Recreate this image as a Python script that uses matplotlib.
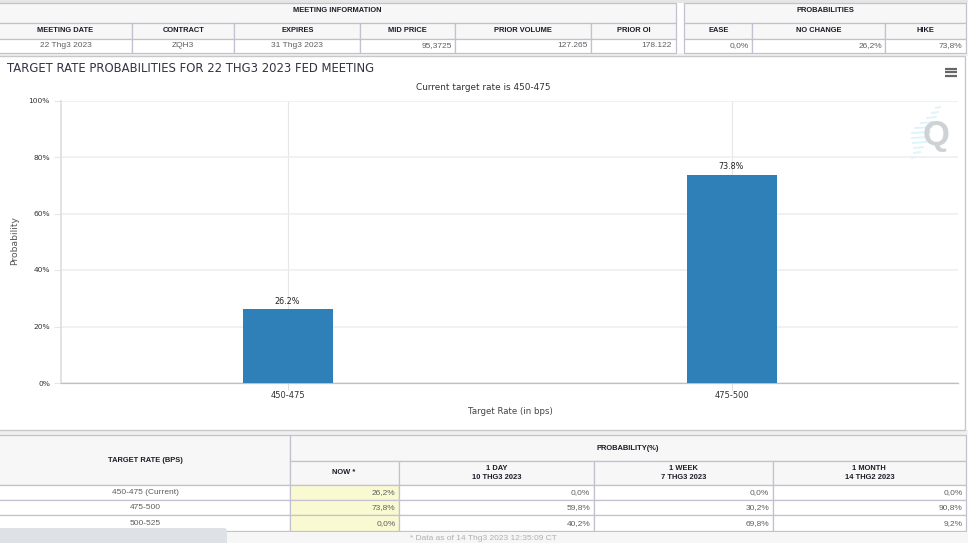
import matplotlib
matplotlib.use('Agg')
import matplotlib.pyplot as plt
from matplotlib.patches import Rectangle, FancyBboxPatch

# top tables
meeting_cols = ['MEETING DATE', 'CONTRACT', 'EXPIRES', 'MID PRICE', 'PRIOR VOLUME', 'PRIOR OI']
meeting_vals = ['22 Thg3 2023', 'ZQH3', '31 Thg3 2023', '95,3725', '127.265', '178.122']
prob_cols = ['EASE', 'NO CHANGE', 'HIKE']
prob_vals = ['0,0%', '26,2%', '73,8%']

# chart
categories = ['450-475', '475-500']
probabilities = [26.2, 73.8]
bar_labels = ['26.2%', '73.8%']
yticks = [0, 20, 40, 60, 80, 100]

# bottom table
rate_rows = ['450-475 (Current)', '475-500', '500-525']
now_vals = ['26,2%', '73,8%', '0,0%']
day_vals = ['0,0%', '59,8%', '40,2%']
week_vals = ['0,0%', '30,2%', '69,8%']
month_vals = ['0,0%', '90,8%', '9,2%']
hist_heads = ['1 DAY\n10 THG3 2023', '1 WEEK\n7 THG3 2023', '1 MONTH\n14 THG2 2023']

W, H = 968, 543
LINE = '#c3c1d0'
HEAD = '#f7f7f7'
TXT = '#5f5f5f'
TABLE_FONT = 'Liberation Sans'
CHART_FONT = 'DejaVu Sans'

fig = plt.figure(figsize=(W / 100, H / 100), dpi=100, facecolor='white')
page = fig.add_axes([0, 0, 1, 1])
page.set_xlim(0, W)
page.set_ylim(H, 0)
page.axis('off')


def box(x0, y0, x1, y1, fc='white', ec=LINE, lw=0.9, z=1):
    page.add_patch(Rectangle((x0, y0), x1 - x0, y1 - y0, fc=fc, ec=ec, lw=lw, zorder=z))


def head(x, y, s):
    page.text(x, y, s, fontsize=5.4, fontweight='bold', family=TABLE_FONT, color='#1c1c28',
              ha='center', va='center', linespacing=1.3, zorder=5)


def cell(x, y, s, ha='right'):
    page.text(x, y, s, fontsize=6.0, family=TABLE_FONT, color=TXT, ha=ha, va='center', zorder=5)


# page background strips
page.add_patch(Rectangle((0, 0), W, 3, fc='#e6e6e6', ec='none'))
page.add_patch(Rectangle((0, 53), W, 3, fc='#f0f0f0', ec='none'))
page.add_patch(Rectangle((0, 430), W, 5, fc='#f0f0f0', ec='none'))

# meeting information table
m_x = [-2, 132.3, 234.3, 360.3, 455.3, 591.3, 675.7]
box(-2, 3, 675.7, 22.5, fc=HEAD)
head(337.5, 10.5, 'MEETING INFORMATION')
for i, name in enumerate(meeting_cols):
    box(m_x[i], 22.5, m_x[i + 1], 38.5, fc=HEAD)
    box(m_x[i], 38.5, m_x[i + 1], 53)
    head((m_x[i] + m_x[i + 1]) / 2, 30.5, name)
    if i < 3:
        cell((m_x[i] + m_x[i + 1]) / 2 if i else 66, 45.3, meeting_vals[i], ha='center')
    else:
        cell(m_x[i + 1] - 3.5, 45.3, meeting_vals[i])

# probabilities table
p_x = [684.3, 752.3, 885.3, 965.7]
box(684.3, 3, 965.7, 22.5, fc=HEAD)
head(825, 10.5, 'PROBABILITIES')
for i, name in enumerate(prob_cols):
    box(p_x[i], 22.5, p_x[i + 1], 38.5, fc=HEAD)
    box(p_x[i], 38.5, p_x[i + 1], 53)
    head((p_x[i] + p_x[i + 1]) / 2, 30.5, name)
    cell(p_x[i + 1] - 3.5, 45.3, prob_vals[i])

# chart panel
box(-2, 56, 964.5, 430, ec='#c8c8c8', lw=1.0)
page.text(7, 69, 'TARGET RATE PROBABILITIES FOR 22 THG3 2023 FED MEETING', fontsize=8.35,
          family=CHART_FONT, color='#333344', va='center', zorder=5)
page.text(483, 87, 'Current target rate is 450-475', fontsize=6.4, family=CHART_FONT,
          color='#333333', ha='center', va='center', zorder=5)
for y in (68.5, 72, 75.5):
    page.plot([944.5, 956.5], [y, y], color='#666666', lw=1.6, solid_capstyle='butt', zorder=5)

# watermark
page.text(936, 135, 'Q', fontsize=25, fontweight='bold', family=TABLE_FONT, color='#cfd2d4',
          ha='center', va='center', zorder=5)
stripes = [(108, 936, 940), (113, 932, 938), (118, 927, 936), (123, 921, 934), (128, 915, 932),
           (133, 912, 930), (138, 912, 928), (143, 913, 926), (148, 914, 923), (153, 914, 920), (158, 912, 916)]
for yy, x0, x1 in stripes:
    page.plot([x0, x1], [yy, yy - 1], color='#dff3fa', lw=1.3, zorder=4)

# bar chart, placed at pixel positions of the reference
ax = fig.add_axes([61 / W, 1 - 383 / H, (958 - 61) / W, (383 - 100.5) / H])
ax.patch.set_alpha(0)
ax.set_xlim(-226.5 / 444, 1 + 226.5 / 444)
ax.set_ylim(0, 100)
xpos = list(range(len(categories)))
ax.bar(xpos, probabilities, width=90 / 444, color='#2f7fb8', zorder=3)
for x, v, s in zip(xpos, probabilities, bar_labels):
    ax.text(x, v + 1.2, s, ha='center', va='bottom', fontsize=5.8, color='#222222', family=CHART_FONT)
ax.set_xticks(xpos)
ax.set_xticklabels(categories, fontsize=6, color='#333333', family=CHART_FONT)
ax.set_yticks(yticks)
ax.set_yticklabels([str(t) + '%' for t in yticks], fontsize=5.4, color='#333333', family=CHART_FONT)
ax.grid(axis='y', color='#eeeeee', lw=1.1, zorder=0)
ax.grid(axis='x', color='#e6e6e6', lw=0.8, zorder=0)
ax.tick_params(axis='x', length=5, width=0.7, color='#dddddd', pad=1)
ax.tick_params(axis='y', length=5, width=0.8, color='#e6e6e6', pad=3)
for name in ('top', 'right'):
    ax.spines[name].set_visible(False)
ax.spines['left'].set_color('#dddddd')
ax.spines['bottom'].set_color('#c0c0c0')
ax.spines['left'].set_linewidth(1.2)
ax.spines['bottom'].set_linewidth(0.9)
page.text(15, 241, 'Probability', rotation=90, fontsize=6.6, family=CHART_FONT, color='#555555',
          ha='center', va='center')
page.text(510, 411, 'Target Rate (in bps)', fontsize=6.2, family=CHART_FONT, color='#444444',
          ha='center', va='center')

# bottom table
b_x = [290.3, 399.3, 593.7, 772.7, 966]
row_y = [485.3, 500.3, 515.3, 531]
box(-2, 435, 290.3, 485.3, fc=HEAD)
head(145, 460, 'TARGET RATE (BPS)')
box(290.3, 435, 966, 460.7, fc=HEAD)
head(628, 448.5, 'PROBABILITY(%)')
box(290.3, 460.7, 399.3, 485.3, fc=HEAD)
head(344, 472, 'NOW *')
for i, name in enumerate(hist_heads):
    box(b_x[i + 1], 460.7, b_x[i + 2], 485.3, fc=HEAD)
    head((b_x[i + 1] + b_x[i + 2]) / 2, 473, name)

columns = [day_vals, week_vals, month_vals]
for r in range(len(rate_rows)):
    cy = (row_y[r] + row_y[r + 1]) / 2
    box(-2, row_y[r], 290.3, row_y[r + 1])
    cell(145, cy, rate_rows[r], ha='center')
    box(290.3, row_y[r], 399.3, row_y[r + 1], fc='#fafad2')
    cell(395.5, cy, now_vals[r])
    for c, vals in enumerate(columns):
        box(b_x[c + 1], row_y[r], b_x[c + 2], row_y[r + 1])
        cell(b_x[c + 2] - 3.5, cy, vals[r])

# footer
page.add_patch(Rectangle((0, 531.5), W, 12, fc='#f6f6f6', ec='none', zorder=2))
page.add_patch(FancyBboxPatch((-6, 528), 233, 30, boxstyle='round,pad=0,rounding_size=3',
                              fc='#dee1e5', ec='none', zorder=3))
page.text(483, 538, '* Data as of 14 Thg3 2023 12:35:09 CT', fontsize=6.0, family=TABLE_FONT,
          color='#b0b0b0', ha='center', va='center', zorder=5)

fig.savefig('out.png', dpi=100)
